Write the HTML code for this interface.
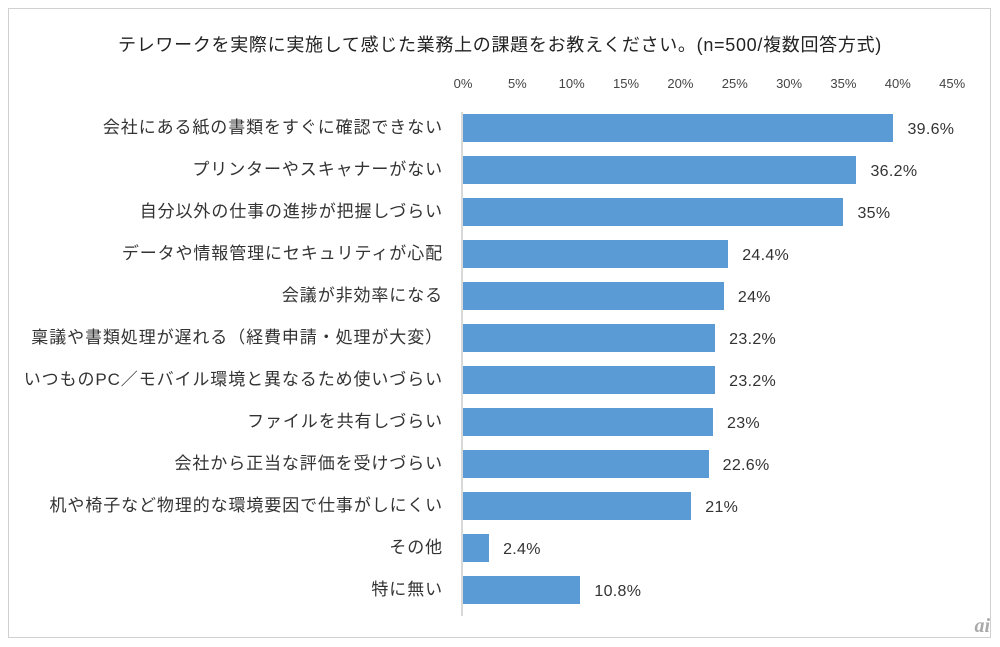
<!DOCTYPE html>
<html><head><meta charset="utf-8"><style>
body{margin:0;background:#fff;width:1000px;height:647px;overflow:hidden;font-family:"Liberation Sans","Noto Sans CJK JP",sans-serif;color:#333}
.frame{position:absolute;left:8px;top:8px;width:983px;height:630px;border:1px solid #d0d0d0;box-sizing:border-box}
.title{position:absolute;top:31px;left:0;width:1000px;text-align:center;font-size:18px;letter-spacing:0.7px;color:#222}
.tick{position:absolute;top:76px;font-size:13px;width:40px;margin-left:-20px;text-align:center;color:#444}
.axis{position:absolute;left:461px;top:112px;width:2px;height:504px;background:#d9d9d9}
.bar{position:absolute;left:463px;height:28px;background:#5b9bd5}
.lab{position:absolute;right:557px;font-size:17px;letter-spacing:0.9px;line-height:28px;white-space:nowrap;color:#333}
.val{position:absolute;font-size:16px;line-height:28px;color:#333;letter-spacing:0.3px}
.ai{position:absolute;right:10px;top:615px;font-size:20px;font-style:italic;font-weight:bold;color:#aaa;font-family:"Liberation Serif",serif}
</style></head><body>
<div class="frame"></div>
<div class="title">テレワークを実際に実施して感じた業務上の課題をお教えください。(n=500/複数回答方式)</div>
<div id="c"></div>
<div class="axis"></div>
<div class="ai">ai</div>
<script>
var d=[["会社にある紙の書類をすぐに確認できない",39.6],["プリンターやスキャナーがない",36.2],["自分以外の仕事の進捗が把握しづらい",35],["データや情報管理にセキュリティが心配",24.4],["会議が非効率になる",24],["稟議や書類処理が遅れる（経費申請・処理が大変）",23.2],["いつものPC／モバイル環境と異なるため使いづらい",23.2],["ファイルを共有しづらい",23],["会社から正当な評価を受けづらい",22.6],["机や椅子など物理的な環境要因で仕事がしにくい",21],["その他",2.4],["特に無い",10.8]];
var h="",s=10.87;
for(var i=0;i<=9;i++)h+='<div class="tick" style="left:'+(463+i*5*s)+'px">'+(i*5)+'%</div>';
d.forEach(function(r,i){var t=114+i*42,w=r[1]*s;
h+='<div class="bar" style="top:'+t+'px;width:'+w+'px"></div>';
h+='<div class="lab" style="top:'+t+'px">'+r[0]+'</div>';
h+='<div class="val" style="top:'+(t+2)+'px;left:'+(463+w+14)+'px">'+r[1]+'%</div>';});
document.getElementById("c").innerHTML=h;
</script>
</body></html>
